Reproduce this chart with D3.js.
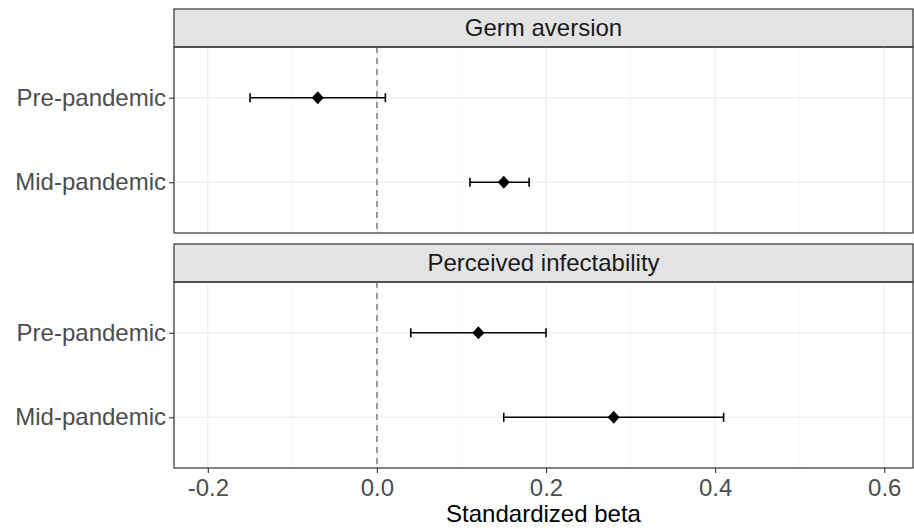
<!DOCTYPE html>
<html>
<head>
<meta charset="utf-8">
<script src="https://cdn.jsdelivr.net/npm/d3@7"></script>
<style>
  body { margin: 0; background: #fff; }
  text { font-family: "Liberation Sans", Arial, sans-serif; }
</style>
</head>
<body>
<div id="chart"></div>
<script>
// data
const panels = ['Germ aversion', 'Perceived infectability'];
const periods = ['Pre-pandemic', 'Mid-pandemic'];
const estimate = [[-0.07, 0.15], [0.12, 0.28]];
const lower = [[-0.15, 0.11], [0.04, 0.15]];
const upper = [[0.01, 0.18], [0.20, 0.41]];
const xTicks = [-0.2, 0.0, 0.2, 0.4, 0.6];
const xMinor = [-0.1, 0.1, 0.3, 0.5];

const W = 914, H = 529;
const margin = { top: 9, right: 1, bottom: 61, left: 174 };
const stripH = 38;
const gap = 11;
const fs = '24px';
const innerW = W - margin.left - margin.right;
const panelH = (H - margin.top - margin.bottom - gap - 2 * stripH) / 2;

const svg = d3.select('#chart').append('svg')
  .attr('width', W).attr('height', H);

const g = svg.append('g')
  .attr('transform', `translate(${margin.left},${margin.top})`);

const x = d3.scaleLinear().domain([-0.24, 0.634]).range([0, innerW]);
const y = d3.scalePoint().domain(periods).range([0, panelH]).padding(0.6);

panels.forEach((name, i) => {
  const top = i * (stripH + panelH + gap);
  const p = g.append('g').attr('transform', `translate(0,${top})`);

  // strip
  p.append('rect')
    .attr('width', innerW).attr('height', stripH)
    .attr('fill', '#E3E3E3').attr('stroke', '#333').attr('stroke-width', 1.2);
  p.append('text')
    .attr('x', innerW / 2).attr('y', stripH / 2)
    .attr('dy', '0.35em')
    .attr('text-anchor', 'middle')
    .style('font-size', fs).attr('fill', '#1A1A1A')
    .text(name);

  const body = p.append('g').attr('transform', `translate(0,${stripH})`);

  // grid
  body.selectAll('.minor').data(xMinor).enter().append('line')
    .attr('x1', d => x(d)).attr('x2', d => x(d))
    .attr('y1', 0).attr('y2', panelH)
    .attr('stroke', '#F2F2F2').attr('stroke-width', 0.6);
  body.selectAll('.major').data(xTicks).enter().append('line')
    .attr('x1', d => x(d)).attr('x2', d => x(d))
    .attr('y1', 0).attr('y2', panelH)
    .attr('stroke', '#EBEBEB').attr('stroke-width', 1.1);
  body.selectAll('.hgrid').data(periods).enter().append('line')
    .attr('x1', 0).attr('x2', innerW)
    .attr('y1', d => y(d)).attr('y2', d => y(d))
    .attr('stroke', '#EBEBEB').attr('stroke-width', 1.1);

  // reference line at zero
  body.append('line')
    .attr('x1', x(0)).attr('x2', x(0))
    .attr('y1', 0).attr('y2', panelH)
    .attr('stroke', '#808080').attr('stroke-width', 1.5)
    .attr('stroke-dasharray', '6,5');

  const rows = periods.map((d, j) => ({
    period: d, est: estimate[i][j], lo: lower[i][j], hi: upper[i][j],
  }));

  // error bars
  const eb = body.selectAll('.eb').data(rows).enter().append('g');
  eb.append('line')
    .attr('x1', d => x(d.lo)).attr('x2', d => x(d.hi))
    .attr('y1', d => y(d.period)).attr('y2', d => y(d.period))
    .attr('stroke', '#000').attr('stroke-width', 1.6);
  eb.append('line')
    .attr('x1', d => x(d.lo)).attr('x2', d => x(d.lo))
    .attr('y1', d => y(d.period) - 4.5).attr('y2', d => y(d.period) + 4.5)
    .attr('stroke', '#000').attr('stroke-width', 1.6);
  eb.append('line')
    .attr('x1', d => x(d.hi)).attr('x2', d => x(d.hi))
    .attr('y1', d => y(d.period) - 4.5).attr('y2', d => y(d.period) + 4.5)
    .attr('stroke', '#000').attr('stroke-width', 1.6);

  // diamonds
  body.selectAll('.pt').data(rows).enter().append('path')
    .attr('d', 'M0,-6.5L6,0L0,6.5L-6,0Z')
    .attr('transform', d => `translate(${x(d.est)},${y(d.period)})`)
    .attr('fill', '#000');

  // panel border
  body.append('rect')
    .attr('width', innerW).attr('height', panelH)
    .attr('fill', 'none').attr('stroke', '#333').attr('stroke-width', 1.2);

  // y axis
  const ya = body.append('g').call(d3.axisLeft(y).tickSize(5).tickPadding(3));
  ya.select('.domain').remove();
  ya.selectAll('line').attr('stroke', '#333').attr('stroke-width', 1.1);
  ya.selectAll('text')
    .style('font-size', fs).attr('fill', '#4D4D4D');

  // x axis on the last panel
  if (i === panels.length - 1) {
    const xa = body.append('g')
      .attr('transform', `translate(0,${panelH})`)
      .call(d3.axisBottom(x).tickValues(xTicks)
        .tickFormat(d => d3.format('.1f')(d).replace('\u2212', '-'))
        .tickSize(5).tickPadding(6));
    xa.select('.domain').remove();
    xa.selectAll('line').attr('stroke', '#333').attr('stroke-width', 1.1);
    xa.selectAll('text')
      .style('font-size', fs).attr('fill', '#4D4D4D');
  }
});

// x label
svg.append('text')
  .attr('x', margin.left + innerW / 2)
  .attr('y', H - 7)
  .attr('text-anchor', 'middle')
  .style('font-size', fs).attr('fill', '#000')
  .text('Standardized beta');
</script>
</body>
</html>
